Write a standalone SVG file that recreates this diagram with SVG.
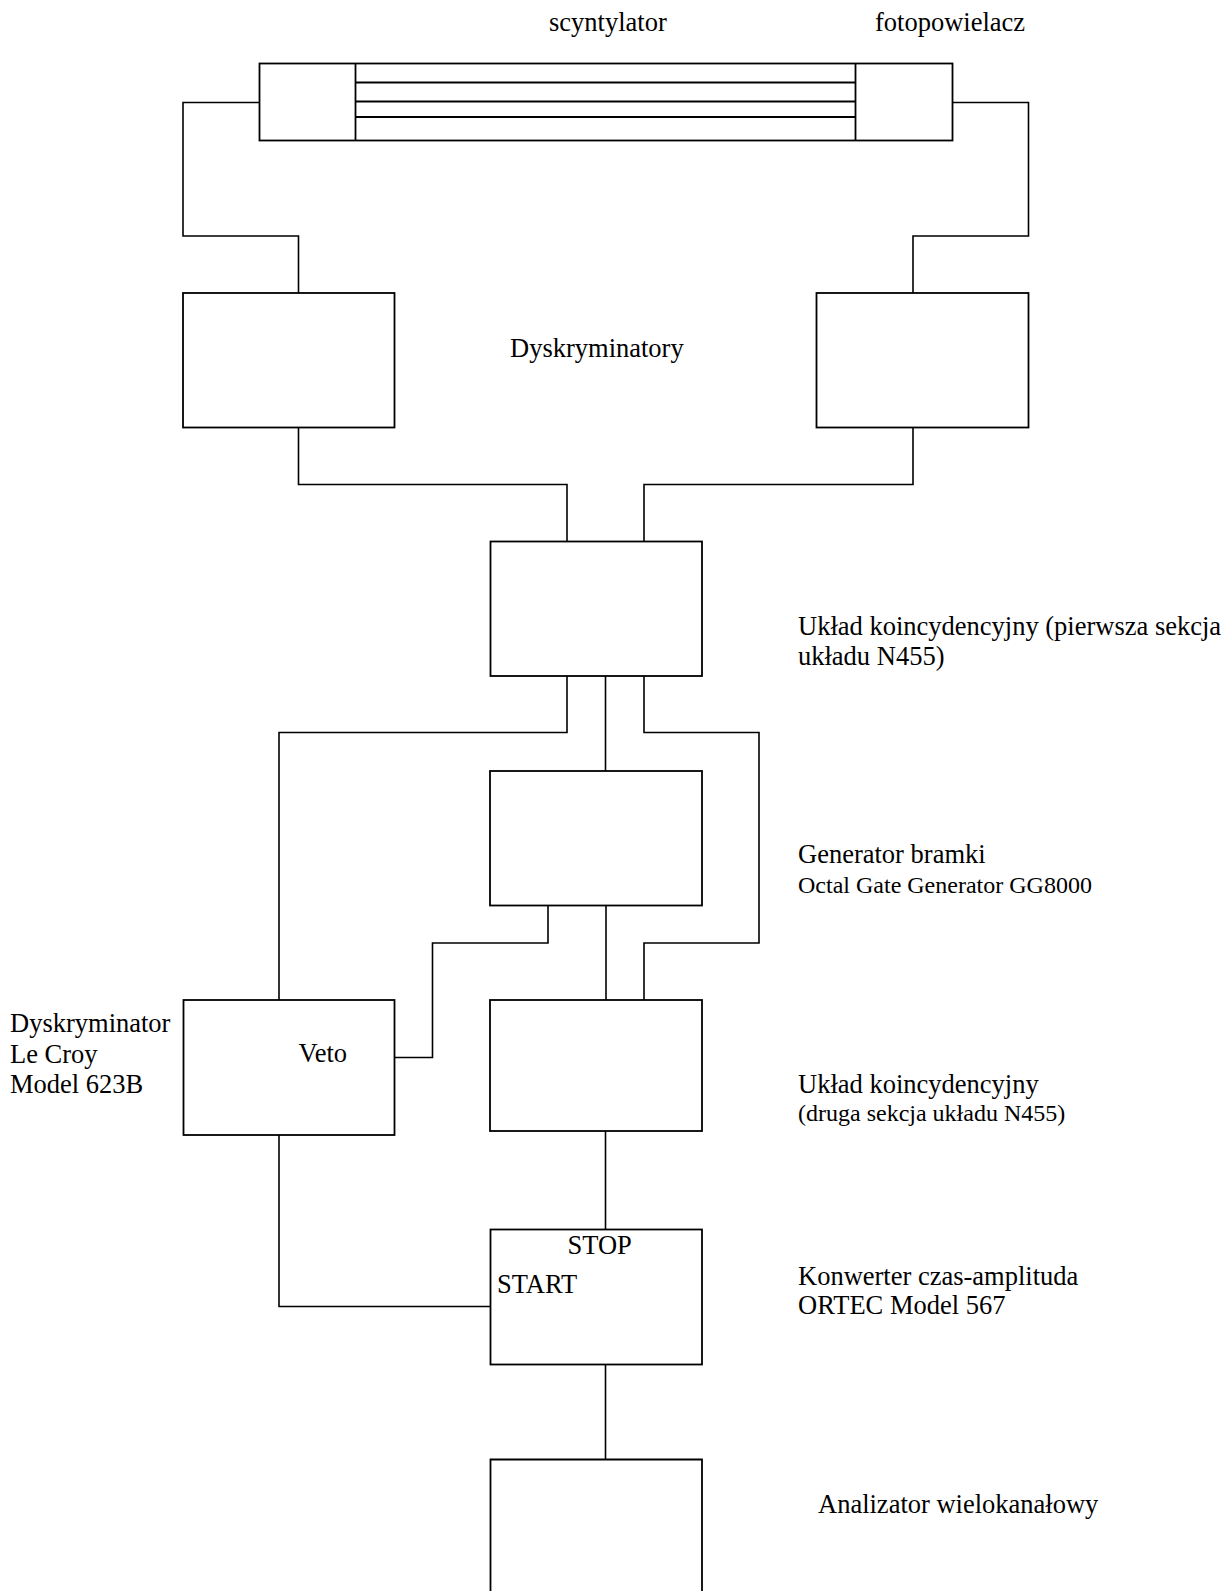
<svg xmlns="http://www.w3.org/2000/svg" width="1227" height="1591" viewBox="0 0 1227 1591">
<style>
.b{fill:none;stroke:#000;stroke-width:1.8}
.w{fill:none;stroke:#000;stroke-width:1.6}
.t{font-family:"Liberation Serif","Times New Roman",serif;font-size:26.5px;fill:#000}
.s{font-family:"Liberation Serif","Times New Roman",serif;font-size:24px;fill:#000}
</style>
<rect width="1227" height="1591" fill="#fff"/>
<g id="scintillator">
<rect class="b" x="259.5" y="63.5" width="693" height="77"/>
<line class="b" x1="355.5" y1="63.5" x2="355.5" y2="140.5"/>
<line class="b" x1="855.5" y1="63.5" x2="855.5" y2="140.5"/>
<line class="b" x1="355.5" y1="82.5" x2="855.5" y2="82.5"/>
<line class="b" x1="355.5" y1="101.5" x2="855.5" y2="101.5"/>
<line class="b" x1="355.5" y1="117" x2="855.5" y2="117"/>
<text class="t" x="549" y="31">scyntylator</text>
<text class="t" x="875" y="31">fotopowielacz</text>
</g>
<g id="disc-left"><rect class="b" x="183" y="293" width="211.5" height="134.5"/></g>
<g id="disc-right"><rect class="b" x="816.5" y="293" width="212" height="134.5"/></g>
<g id="disc-label"><text class="t" x="510" y="357">Dyskryminatory</text></g>
<g id="coinc1">
<rect class="b" x="490.5" y="541.5" width="211.5" height="134.5"/>
<text class="t" x="798" y="635">Układ koincydencyjny (pierwsza sekcja</text>
<text class="t" x="798" y="665">układu N455)</text>
</g>
<g id="gate">
<rect class="b" x="490" y="771" width="212" height="134.5"/>
<text class="t" x="798" y="863">Generator bramki</text>
<text class="s" x="798" y="893">Octal Gate Generator GG8000</text>
</g>
<g id="lecroy">
<rect class="b" x="183.5" y="1000" width="211" height="135"/>
<text class="t" x="298.5" y="1062">Veto</text>
<text class="t" x="10" y="1032">Dyskryminator</text>
<text class="t" x="10" y="1063">Le Croy</text>
<text class="t" x="10" y="1093">Model 623B</text>
</g>
<g id="coinc2">
<rect class="b" x="490" y="1000" width="212" height="131"/>
<text class="t" x="798" y="1093">Układ koincydencyjny</text>
<text class="s" x="798" y="1121">(druga sekcja układu N455)</text>
</g>
<g id="tac">
<rect class="b" x="490.5" y="1229.5" width="211.5" height="135"/>
<text class="t" x="567.5" y="1254">STOP</text>
<text class="t" x="497" y="1292.5">START</text>
<text class="t" x="798" y="1285">Konwerter czas-amplituda</text>
<text class="t" x="798" y="1314">ORTEC Model 567</text>
</g>
<g id="mca">
<path class="b" d="M490.5 1600V1459.5H702V1600"/>
<text class="t" x="818" y="1513">Analizator wielokanałowy</text>
</g>
<g id="connectors">
<path class="w" d="M259.5 102.5H183V236H298.5V293"/>
<path class="w" d="M952.5 102.5H1028.5V236H913V293"/>
<path class="w" d="M298.5 427.5V484.5H567V541.5"/>
<path class="w" d="M913 427.5V484.5H644V541.5"/>
<path class="w" d="M567 676V732.5H279V1000"/>
<path class="w" d="M605.5 676V771"/>
<path class="w" d="M644 676V732.5H759V943H644V1000"/>
<path class="w" d="M606 905.5V1000"/>
<path class="w" d="M548 905.5V943H432.5V1057.5H394.5"/>
<path class="w" d="M279 1135V1306.5H490.5"/>
<path class="w" d="M605.5 1131V1229.5"/>
<path class="w" d="M605.5 1364.5V1459.5"/>
</g>
</svg>
